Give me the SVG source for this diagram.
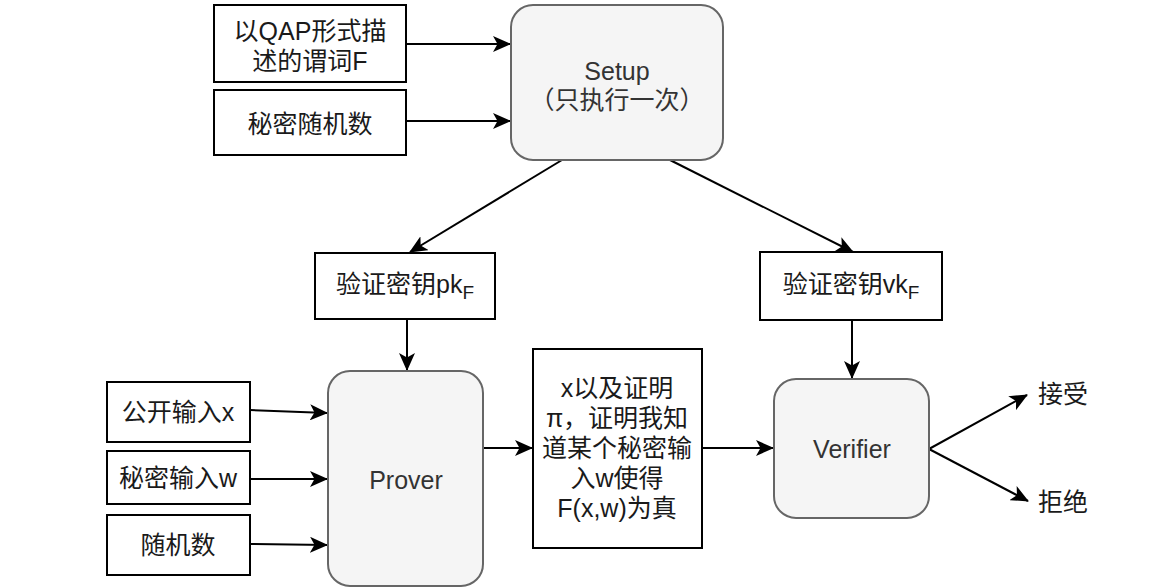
<svg xmlns="http://www.w3.org/2000/svg" width="1152" height="587" viewBox="0 0 1152 587">
<defs>
<marker id="ah" viewBox="0 0 18 16" refX="17" refY="8" markerWidth="18" markerHeight="16" markerUnits="userSpaceOnUse" orient="auto">
<path d="M0,0 L18,8 L0,16 L4.5,8 Z" fill="#000"/>
</marker>
<style>
.box{fill:#fff;stroke:#000;stroke-width:2}
.rb{fill:#f5f5f5;stroke:#666;stroke-width:2}
.t{font-family:"Liberation Sans","Noto Sans CJK SC",sans-serif;font-size:25px;fill:#1a1a1a;text-anchor:middle}
.g{fill:#333}
.c{fill:none;stroke:#000;stroke-width:2;marker-end:url(#ah)}
</style>
</defs>
<rect width="1152" height="587" fill="#fff"/>
<g id="connectors">
<path class="c" d="M406,44 L510,44"/>
<path class="c" d="M406,121 L510,121"/>
<path class="c" d="M562,160 L410,252"/>
<path class="c" d="M670,160 L853,252"/>
<path class="c" d="M407,320 L407,370"/>
<path class="c" d="M852,320 L852,378"/>
<path class="c" d="M250,410 L327,413"/>
<path class="c" d="M250,479 L327,479"/>
<path class="c" d="M250,544 L327,545"/>
<path class="c" d="M483,448 L532,448"/>
<path class="c" d="M702,448 L773,448"/>
<path class="c" d="M929,449 L1027,395"/>
<path class="c" d="M929,449 L1028,501"/>
</g>
<g id="qap">
<rect class="box" x="214" y="5" width="192" height="77"/>
<text class="t" x="310" y="40">以QAP形式描</text>
<text class="t" x="310" y="70">述的谓词F</text>
</g>
<g id="secret-random">
<rect class="box" x="214" y="90" width="192" height="65"/>
<text class="t" x="310" y="133">秘密随机数</text>
</g>
<g id="setup">
<rect class="rb" x="511" y="5" width="212" height="155" rx="22"/>
<text class="t g" x="617" y="80">Setup</text>
<text class="t g" x="617" y="109">（只执行一次）</text>
</g>
<g id="pk">
<rect class="box" x="315" y="253" width="180" height="66"/>
<text class="t" x="405" y="293">验证密钥pk<tspan font-size="19" dy="6">F</tspan></text>
</g>
<g id="vk">
<rect class="box" x="760" y="252" width="182" height="68"/>
<text class="t" x="851" y="293">验证密钥vk<tspan font-size="19" dy="6">F</tspan></text>
</g>
<g id="public-x">
<rect class="box" x="107" y="382" width="143" height="60"/>
<text class="t" x="178" y="421">公开输入x</text>
</g>
<g id="secret-w">
<rect class="box" x="107" y="451" width="143" height="53"/>
<text class="t" x="178" y="487">秘密输入w</text>
</g>
<g id="random">
<rect class="box" x="107" y="515" width="143" height="60"/>
<text class="t" x="178" y="554">随机数</text>
</g>
<g id="prover">
<rect class="rb" x="328" y="371" width="155" height="215" rx="22"/>
<text class="t g" x="406" y="489">Prover</text>
</g>
<g id="proof">
<rect class="box" x="533" y="349" width="169" height="199"/>
<text class="t" x="617" y="397">x以及证明</text>
<text class="t" x="617" y="427">π，证明我知</text>
<text class="t" x="617" y="457">道某个秘密输</text>
<text class="t" x="617" y="487">入w使得</text>
<text class="t" x="617" y="517">F(x,w)为真</text>
</g>
<g id="verifier">
<rect class="rb" x="774" y="379" width="155" height="139" rx="22"/>
<text class="t g" x="852" y="458">Verifier</text>
</g>
<g id="accept">
<text class="t" x="1063" y="403">接受</text>
</g>
<g id="reject">
<text class="t" x="1063" y="511">拒绝</text>
</g>
</svg>
